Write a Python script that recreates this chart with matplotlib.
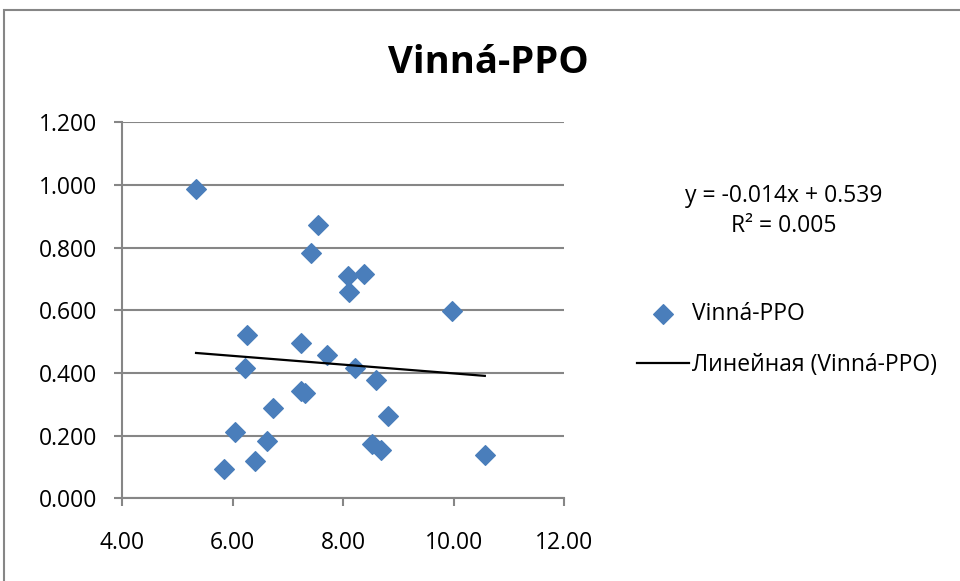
import numpy as np
import matplotlib
matplotlib.use("Agg")
from matplotlib import pyplot as plt
from matplotlib.patches import Rectangle

plt.rcParams['font.family'] = ['Open Sans', 'DejaVu Sans']

# data
x_vals = [5.34, 7.54, 7.42, 8.08, 8.37, 8.10, 9.96, 6.26, 7.24, 7.71, 8.22, 6.22,
          8.60, 7.23, 7.31, 6.73, 8.81, 6.04, 6.63, 8.52, 8.68, 6.40, 5.84, 10.56]
y_vals = [0.987, 0.872, 0.783, 0.711, 0.717, 0.658, 0.597, 0.522, 0.496, 0.458, 0.415, 0.415,
          0.377, 0.344, 0.336, 0.288, 0.263, 0.211, 0.183, 0.173, 0.155, 0.121, 0.095, 0.140]
slope, intercept = -0.014, 0.539
eq_text = "y = -0.014x + 0.539\nR² = 0.005"
series_name = "Vinná-PPO"
trend_name = "Линейная (Vinná-PPO)"
x_ticks = [4, 6, 8, 10, 12]
y_ticks = [0.0, 0.2, 0.4, 0.6, 0.8, 1.0, 1.2]

fs = 16.5
fig = plt.figure(figsize=(9.6, 5.81), dpi=100)
ax = fig.add_axes([0.127, 0.142, 0.461, 0.6475])

grey = '#868686'
ax.scatter(x_vals, y_vals, marker='D', s=100, color='#4a7ebb', zorder=3, label=series_name)
xs = np.array([min(x_vals), max(x_vals)])
ax.plot(xs, slope * xs + intercept, color='black', lw=1.6, zorder=4, label=trend_name)

ax.set_xlim(4, 12)
ax.set_ylim(0, 1.2)
ax.set_xticks(x_ticks)
ax.set_yticks(y_ticks)
ax.set_xticklabels([f"{v:.2f}" for v in x_ticks])
ax.set_yticklabels([f"{v:.3f}" for v in y_ticks])
ax.grid(axis='y', color=grey, lw=1.5)
ax.set_axisbelow(True)
for s in ['top', 'right']:
    ax.spines[s].set_visible(False)
for s in ['left', 'bottom']:
    ax.spines[s].set_color(grey)
    ax.spines[s].set_linewidth(1.5)
ax.tick_params(axis='both', colors=grey, width=1.5, length=5.5, labelsize=fs, labelcolor='black')
ax.tick_params(axis='x', pad=18)
ax.tick_params(axis='y', pad=12)

fig.text(0.509, 1 - 72.7 / 581, series_name, ha='center', va='baseline', fontsize=27.5, fontweight='bold')
fig.text(0.816, 0.637, eq_text, ha='center', va='center', fontsize=fs, linespacing=1.3)

leg = ax.legend(loc='center left', bbox_to_anchor=(0.652, 0.4157), bbox_transform=fig.transFigure,
                frameon=False, fontsize=fs, handlelength=2.27, handletextpad=0.1,
                labelspacing=1.2, borderpad=0)

# chart area border
fig.patches.append(Rectangle((4 / 960, -0.1), 1.2, 1 - 10 / 581 + 0.1, transform=fig.transFigure,
                             fill=False, edgecolor=grey, lw=1.5))

fig.savefig("out.png", dpi=100)
